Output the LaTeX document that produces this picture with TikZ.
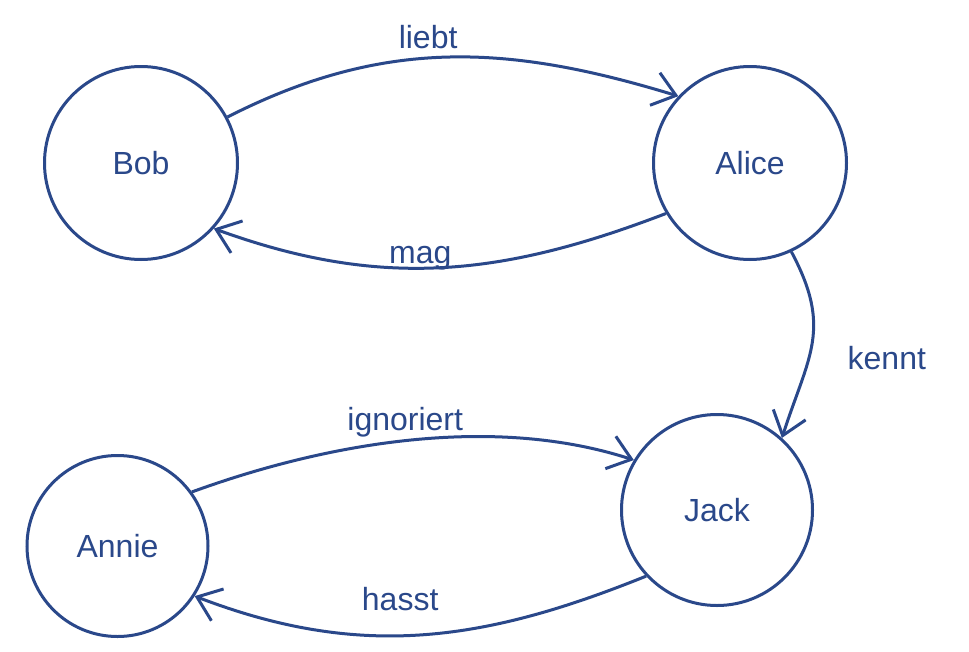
\documentclass[tikz,border=0pt]{standalone}
\usepackage{fontspec}
\setmainfont{Liberation Sans}
\usetikzlibrary{arrows.meta}
\definecolor{ink}{RGB}{42,72,138}
\begin{document}
\begin{tikzpicture}[x=1pt,y=-1pt,
  state/.style={circle, draw=ink, line width=3pt, text=ink, font=\fontsize{32}{38}\selectfont, inner sep=0pt},
  edge/.style={draw=ink, line width=3pt, -{Straight Barb[length=22pt,width=34pt,line width=3pt]}},
  lab/.style={text=ink, font=\fontsize{32}{38}\selectfont, anchor=base, inner sep=0pt}]
\path[use as bounding box, fill=white] (0,0) rectangle (969,651);
\node[state, minimum size=193pt] (bob) at (141,163) {Bob};
\node[state, minimum size=193pt] (alice) at (750,163) {Alice};
\node[state, minimum size=191pt] (jack) at (717,510) {Jack};
\node[state, minimum size=181pt] (annie) at (117.5,546) {Annie};
\draw[edge] (bob.28) to[out=27, in=163] node[lab, pos=0.5, xshift=-20.5pt, yshift=9pt] {liebt} (alice.137);
\draw[edge] (alice.211) to[out=201, in=-20] node[lab, pos=0.5, xshift=-20pt, yshift=3.6pt] {mag} (bob.-42);
\draw[edge] (alice.-65) to[out=-62, in=72, looseness=1.2] node[lab, anchor=base west, pos=0.5, xshift=34pt, yshift=-27pt] {kennt} (jack.48);
\draw[edge] (annie.36) to[out=20, in=162, looseness=0.85] node[lab, pos=0.5, xshift=-7pt, yshift=10pt] {ignoriert} (jack.149);
\draw[edge] (jack.223) to[out=202, in=-21] node[lab, pos=0.5, xshift=-20.6pt, yshift=24pt] {hasst} (annie.-33);
\end{tikzpicture}
\end{document}
